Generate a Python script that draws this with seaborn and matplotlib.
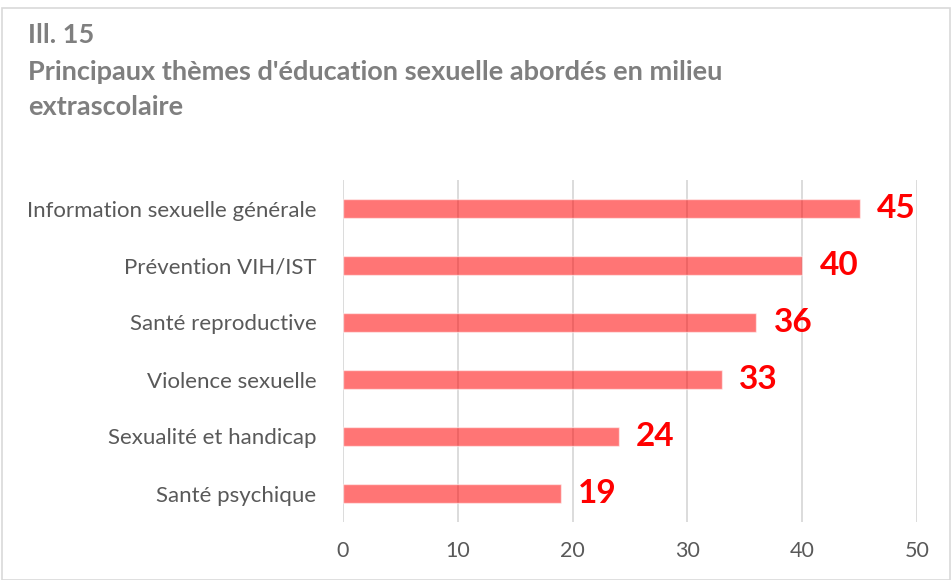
import matplotlib
matplotlib.use("Agg")
import matplotlib.pyplot as plt
import seaborn as sns
import pandas as pd
from matplotlib.patches import Rectangle

categories = ["Information sexuelle générale", "Prévention VIH/IST", "Santé reproductive",
              "Violence sexuelle", "Sexualité et handicap", "Santé psychique"]
values = [45, 40, 36, 33, 24, 19]
xticks = [0, 10, 20, 30, 40, 50]
title_lines = ["Ill. 15", "Principaux thèmes d'éducation sexuelle abordés en milieu", "extrascolaire"]

sns.set_style("white")
plt.rcParams['font.family'] = ['Lato', 'DejaVu Sans']

fig = plt.figure(figsize=(9.51, 5.80), dpi=100)
W, H = 951, 580
ax = fig.add_axes([343 / W, 1 - 522 / H, (917 - 343) / W, (522 - 180) / H])

df = pd.DataFrame({"cat": categories, "val": values})
sns.barplot(data=df, y="cat", x="val", orient="h", color="#FF0000", alpha=0.54,
            width=0.35, ax=ax, zorder=3, saturation=1)

ax.set_xlim(0, 50)
ax.set_ylim(5.5, -0.5)
ax.set_xticks(xticks)
ax.set_xlabel("")
ax.set_ylabel("")
ax.grid(axis="x", color="#D9D9D9", linewidth=1.3, zorder=0)
ax.set_axisbelow(True)
for s in ax.spines.values():
    s.set_visible(False)
ax.tick_params(axis="both", length=0, labelcolor="#595959")
ax.tick_params(axis="y", pad=19, labelsize=16)
ax.tick_params(axis="x", pad=14, labelsize=15.5)

for i, v in enumerate(values):
    ax.text(v + 1.5, i, str(v), color="#FF0000", fontsize=24, fontweight="bold",
            va="center", ha="left")

ys = [35, 72, 107]
for t, y in zip(title_lines, ys):
    fig.text(28 / W, 1 - y / H, t, color="#7F7F7F", fontsize=19.5, fontweight="bold",
             va="center", ha="left")

fig.patches.append(Rectangle((2 / W, 0), (W - 3) / W, 1 - 8 / H, transform=fig.transFigure,
                             fill=False, edgecolor="#D9D9D9", linewidth=1.2))

fig.savefig("out.png", dpi=100)
